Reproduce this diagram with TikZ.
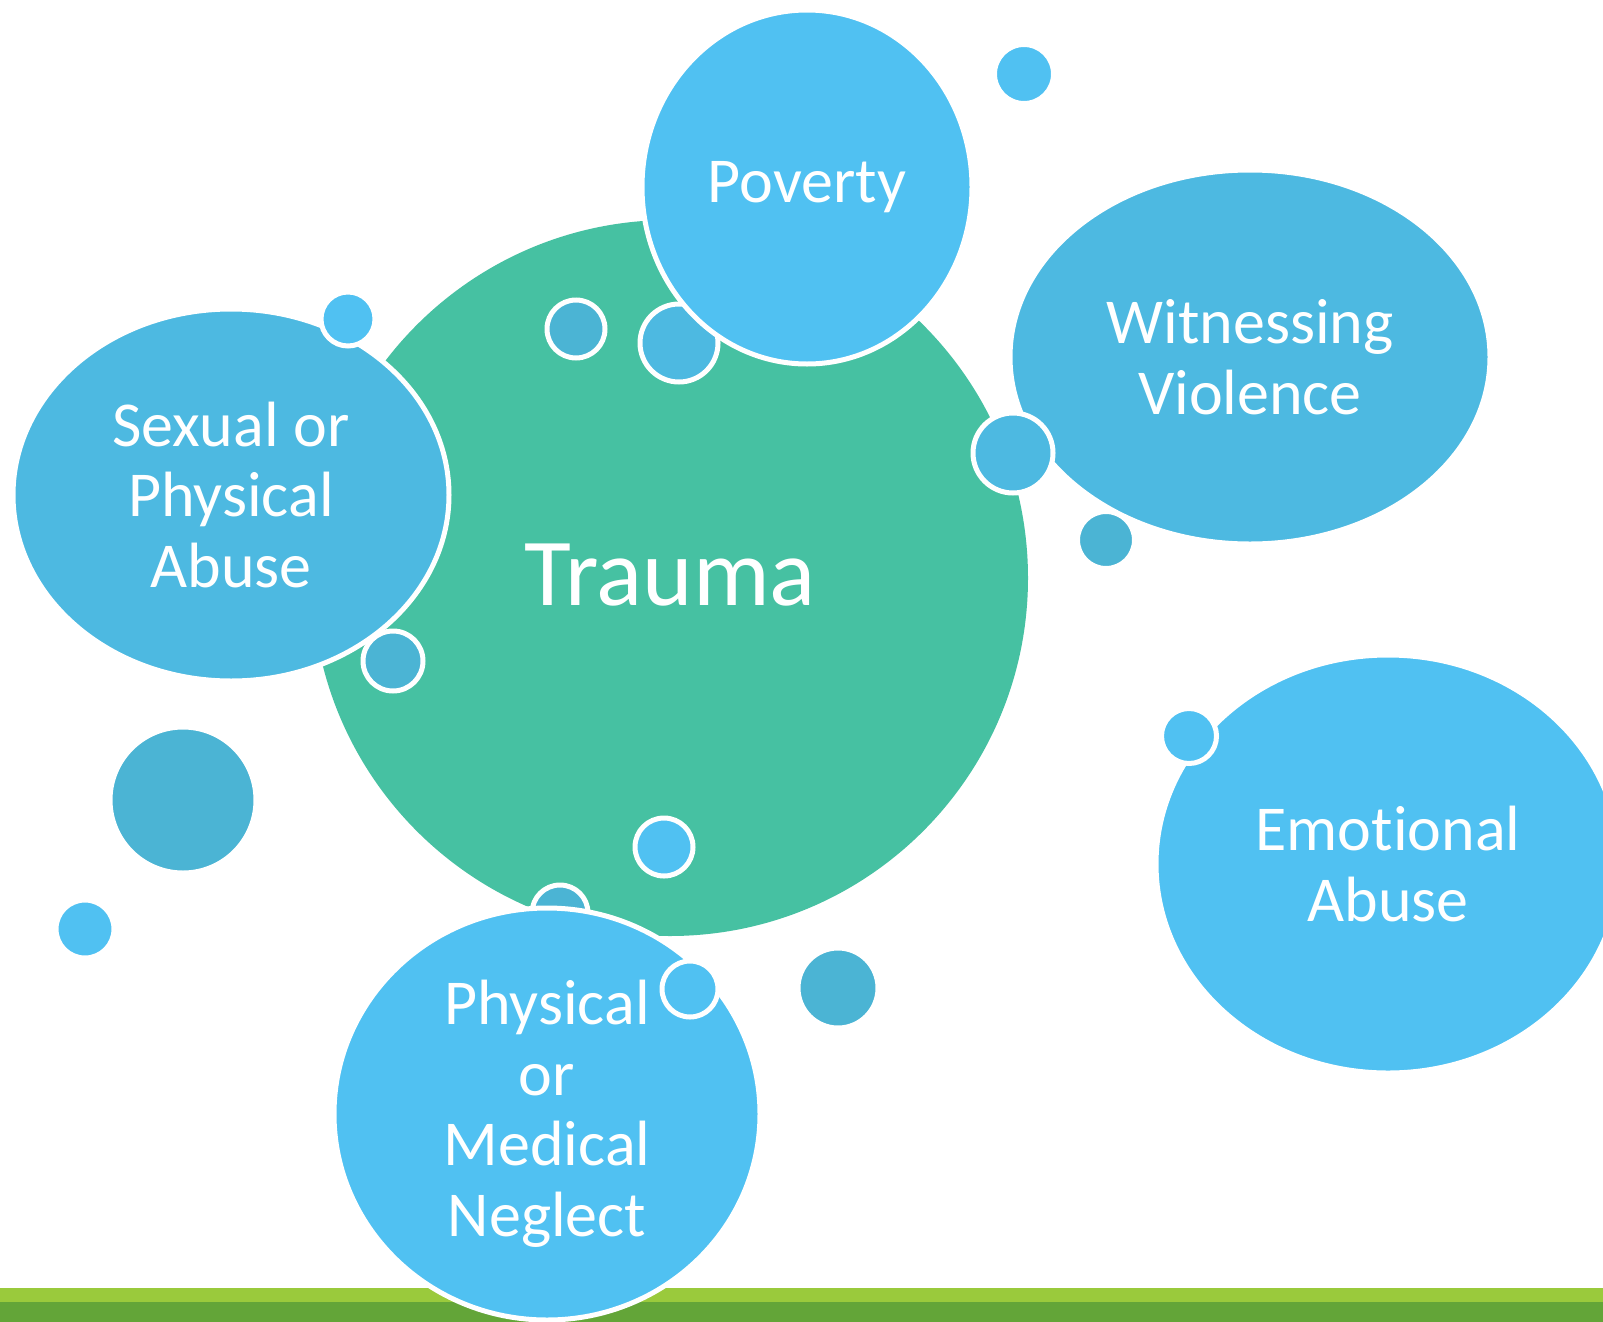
\documentclass[tikz,border=0pt]{standalone}
\usepackage{fontspec}
\setmainfont{Carlito}[Ligatures=NoCommon]
\usetikzlibrary{shapes.geometric}
\definecolor{traumagreen}{HTML}{46C1A2}
\definecolor{bubbleA}{HTML}{50C1F2}
\definecolor{bubbleB}{HTML}{4DB9E1}
\definecolor{bubbleC}{HTML}{4BB4D4}
\definecolor{barlight}{HTML}{9ACA3C}
\definecolor{bardark}{HTML}{63A538}

\begin{document}
\begin{tikzpicture}[x=1pt,y=-1pt,
	blob/.style={ellipse,draw=white,line width=5pt,inner sep=0pt,text=white,align=center,font=\fontsize{64}{70.5}\selectfont},
	bubble/.style={circle,draw=white,line width=5pt,inner sep=0pt,minimum size=2*#1}]
\useasboundingbox[fill=white] (0,0) rectangle (1603,1322);

\path (670,578) node[circle,fill=traumagreen,inner sep=0pt,minimum size=716,text=white,text depth=6pt,font=\fontsize{96}{100}\selectfont] (trauma) {Trauma};

\path (679,343) node[bubble=39,fill=bubbleB] (b4) {}
		(560,913) node[bubble=28,fill=bubbleC] (b11) {}
		(1106,540) node[bubble=28.5,fill=bubbleC] (b6) {}
		;

\fill[barlight] (0,1288) rectangle (1603,1302);
\fill[bardark] (0,1302) rectangle (1603,1322);

\path (807,187) node[blob,fill=bubbleA,minimum width=330,minimum height=354] (poverty) {Poverty}
		(1250,357) node[blob,fill=bubbleB,minimum width=480,minimum height=374] (witness) {Witnessing\\Violence}
		(231,495) node[blob,fill=bubbleB,minimum width=436,minimum height=372] (abuse) {Sexual or\\Physical\\Abuse}
		(1388,864) node[blob,fill=bubbleA,minimum width=464,minimum height=418] (emotional) {Emotional\\Abuse}
		(547,1114) node[blob,fill=bubbleA,minimum width=426,minimum height=412] (neglect) {Physical\\or\\Medical\\Neglect}
		;

\path (1024,74) node[bubble=29.5,fill=bubbleA] (b1) {}
		(348,319) node[bubble=27,fill=bubbleA] (b2) {}
		(576,329) node[bubble=29,fill=bubbleC] (b3) {}
		(1013,453) node[bubble=40,fill=bubbleB] (b5) {}
		(393,661) node[bubble=30,fill=bubbleC] (b7) {}
		(183,800) node[bubble=73,fill=bubbleC] (b8) {}
		(85,929) node[bubble=29,fill=bubbleA] (b9) {}
		(664,847) node[bubble=29,fill=bubbleA] (b10) {}
		(690,989) node[bubble=28,fill=bubbleA] (b12) {}
		(838,988) node[bubble=40,fill=bubbleC] (b13) {}
		(1189,736) node[bubble=27.5,fill=bubbleA] (b14) {}
		;
\end{tikzpicture}
\end{document}
